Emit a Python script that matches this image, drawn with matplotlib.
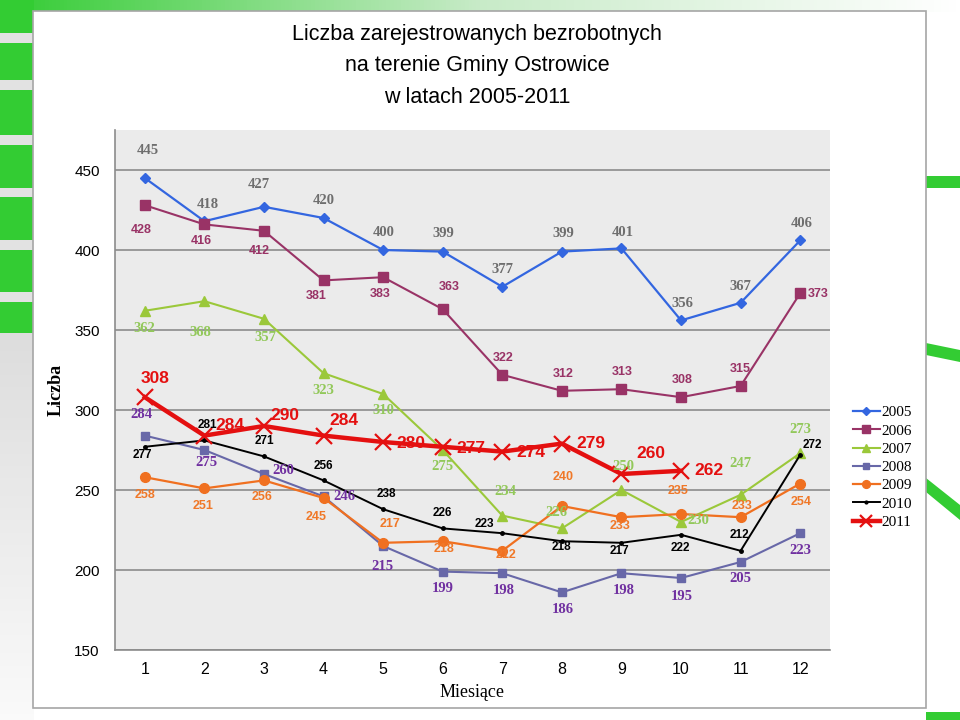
import matplotlib.pyplot as plt
from matplotlib.patches import Rectangle, Polygon
from matplotlib.colors import LinearSegmentedColormap
import numpy as np

# data
months = list(range(1, 13))
y2005 = [445, 418, 427, 420, 400, 399, 377, 399, 401, 356, 367, 406]
y2006 = [428, 416, 412, 381, 383, 363, 322, 312, 313, 308, 315, 373]
y2007 = [362, 368, 357, 323, 310, 275, 234, 226, 250, 230, 247, 273]
y2008 = [284, 275, 260, 246, 215, 199, 198, 186, 198, 195, 205, 223]
y2009 = [258, 251, 256, 245, 217, 218, 212, 240, 233, 235, 233, 254]
y2010 = [277, 281, 271, 256, 238, 226, 223, 218, 217, 222, 212, 272]
y2011 = [308, 284, 290, 284, 280, 277, 274, 279, 260, 262]
years = ['2005', '2006', '2007', '2008', '2009', '2010', '2011']

title = 'Liczba zarejestrowanych bezrobotnych\nna terenie Gminy Ostrowice\nw latach 2005-2011'

serif = ['Liberation Serif', 'DejaVu Serif']
sans = ['Liberation Sans', 'DejaVu Sans']

# label offsets in pixels (dx, dy), per point
off2005 = [(3, 27), (3, 17), (-5, 22), (0, 17), (1, 17), (1, 18), (0, 17),
           (1, 18), (1, 16), (1, 17), (0, 16), (1, 17)]
off2006 = [(-4, -25), (-3, -17), (-5, -20), (-7, -16), (-3, -17), (7, 22),
           (1, 17), (1, 17), (1, 17), (1, 17), (0, 17), (18, -1)]
off2007 = [(0, -18), (-4, -31), (1, -19), (0, -17), (0, -17), (0, -17),
           (3, 24), (-5, 16), (2, 24), (17, 2), (0, 31), (0, 24)]
off2008 = [(-3, 21), (2, -12), (19, 3), (21, 0), (-1, -20), (0, -17),
           (1, -17), (1, -17), (2, -17), (1, -18), (0, -17), (0, -17)]
off2009 = [(0, -18), (-1, -18), (-2, -17), (-7, -19), (7, 19), (1, -8),
           (4, -4), (1, 29), (-1, -9), (-3, 23), (1, 11), (1, -18)]
off2010 = [(-2, -8), (3, 15), (0, 15), (0, 14), (3, 15), (0, 15),
           (-18, 9), (0, -6), (-2, -8), (-1, -13), (-1, 16), (12, 10)]
off2011 = [(10, 19), (26, 10), (21, 11), (20, 15), (28, -1), (28, -2),
           (29, -1), (29, 0), (29, 20), (28, 0)]

series = [
    (y2005, dict(color='#3366E0', marker='D', ms=5, lw=1.6), off2005,
     dict(color='#6E6E6E', family=serif, size=10.5)),
    (y2006, dict(color='#993366', marker='s', ms=7, lw=1.5), off2006,
     dict(color='#993366', family=sans, size=9)),
    (y2007, dict(color='#9BC83A', marker='^', ms=7, lw=1.5), off2007,
     dict(color='#92C85A', family=serif, size=10.5)),
    (y2008, dict(color='#6868A8', marker='s', ms=6, lw=1.5), off2008,
     dict(color='#7030A0', family=serif, size=10.5)),
    (y2009, dict(color='#F07020', marker='o', ms=7, lw=1.6), off2009,
     dict(color='#F07828', family=sans, size=9)),
    (y2010, dict(color='black', marker='.', ms=5, lw=1.4), off2010,
     dict(color='black', family=sans, size=8.5)),
    (y2011, dict(color='#E41010', marker='x', ms=11, mew=1.6, lw=3.2), off2011,
     dict(color='#E41010', family=sans, size=12.5)),
]

fig = plt.figure(figsize=(9.6, 7.2), dpi=100)

# background decoration
bg = fig.add_axes([0, 0, 1, 1], zorder=-10)
bg.set_xlim(0, 960)
bg.set_ylim(720, 0)
bg.axis('off')
grad = np.linspace(0, 1, 256).reshape(1, -1)
gcmap = LinearSegmentedColormap.from_list('g', ['#33CC33', '#C8EBC8', '#FFFFFF'])
bg.imshow(grad, cmap=gcmap, extent=[0, 960, 12, 0], aspect='auto')
graycm = LinearSegmentedColormap.from_list('gr', ['#DDDDDD', '#FAFAFA'])
bg.imshow(np.linspace(0, 1, 64).reshape(-1, 1), cmap=graycm,
          extent=[0, 34, 720, 333], aspect='auto')
bands = [(0, 33), (43, 80), (90, 135), (145, 188), (197, 240), (250, 292), (302, 333)]
for b0, b1 in bands:
    bg.add_patch(Rectangle((0, b0), 34, b1 - b0, color='#33CC33', lw=0))
for b0, b1 in zip([33, 80, 135, 188, 240, 292], [43, 90, 145, 197, 250, 302]):
    bg.add_patch(Rectangle((0, b0), 34, b1 - b0, color='#E2E2E2', lw=0))
bg.add_patch(Polygon([(926, 176), (960, 176), (960, 188), (926, 188)], color='#33CC33', lw=0))
bg.add_patch(Polygon([(926, 343), (960, 350), (960, 362), (926, 355)], color='#33CC33', lw=0))
bg.add_patch(Polygon([(926, 478), (960, 505), (960, 520), (926, 492)], color='#33CC33', lw=0))
bg.add_patch(Polygon([(926, 712), (960, 712), (960, 720), (926, 720)], color='#33CC33', lw=0))
bg.add_patch(Rectangle((33, 11), 893, 697, facecolor='white', edgecolor='#A6A6A6', lw=1.2))

ax = fig.add_axes([115 / 960, 70 / 720, 715 / 960, 520 / 720])
ax.set_facecolor('#EBEBEB')
ax.set_xlim(0.5, 12.5)
ax.set_ylim(150, 475)
ax.set_yticks(range(150, 451, 50))
ax.set_xticks(months)
ax.yaxis.grid(True, color='#8C8C8C', lw=1.2)
ax.set_axisbelow(True)
for s in ['top', 'right']:
    ax.spines[s].set_visible(False)
for s in ['left', 'bottom']:
    ax.spines[s].set_color('#8C8C8C')
    ax.spines[s].set_linewidth(1.2)
ax.tick_params(axis='y', length=0, labelsize=11, pad=11)
ax.tick_params(axis='x', length=0, labelsize=11.5, pad=9)
for t in ax.get_xticklabels() + ax.get_yticklabels():
    t.set_family(sans)

for (vals, st, offs, lab), name in zip(series, years):
    xs = months[:len(vals)]
    ax.plot(xs, vals, label=name, **st)
    for x, v, (dx, dy) in zip(xs, vals, offs):
        ax.annotate(str(v), (x, v), xytext=(dx, dy), textcoords='offset pixels',
                    ha='center', va='center', fontweight='bold', **lab)

ax.set_ylabel('Liczba', family=serif, fontweight='bold', fontsize=13, labelpad=7)
ax.set_xlabel('Miesiące', family=serif, fontsize=13, labelpad=5)

fig.text(477 / 960, 1 - 66 / 720, title, ha='center', va='center',
         family=sans, fontsize=15.5, linespacing=1.63)

leg = ax.legend(loc='upper left', bbox_to_anchor=(845 / 960, 1 - 398 / 720),
                bbox_transform=fig.transFigure, frameon=False,
                prop={'family': serif, 'size': 11}, handlelength=1.8,
                handletextpad=0.1, labelspacing=0.3, borderpad=0, markerscale=0.8)

fig.savefig('out.png', dpi=100)
